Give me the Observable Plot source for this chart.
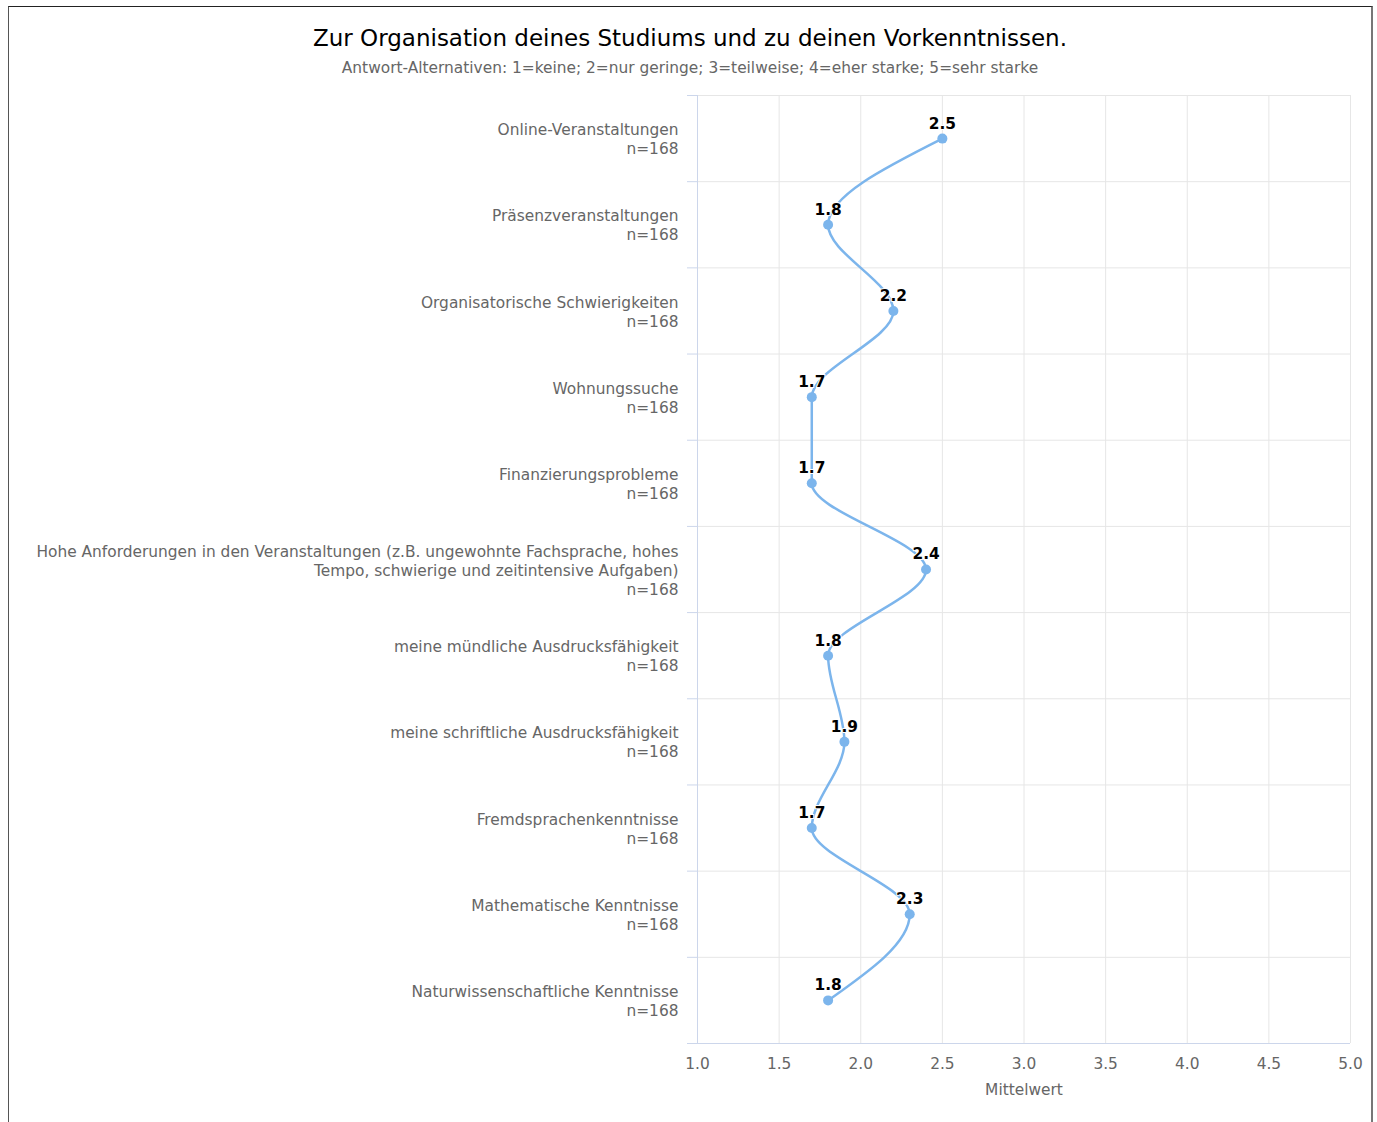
<!DOCTYPE html>
<html>
<head>
<meta charset="utf-8">
<script src="https://cdn.jsdelivr.net/npm/d3@7"></script>
<script src="https://cdn.jsdelivr.net/npm/@observablehq/plot@0.6"></script>
<style>
  html, body { margin: 0; padding: 0; background: #fff; overflow: hidden; }
  #frame {
    position: absolute; left: 8px; top: 6px; width: 1362px; height: 1200px;
    border-left: 1px solid #555; border-top: 1px solid #222; border-right: 2px solid #777;
    background: #fff; font-family: "DejaVu Sans", sans-serif;
  }
  #title {
    position: absolute; left: 0; width: 100%; top: 17px; text-align: center;
    font-size: 23px; line-height: 28px; color: #000;
  }
  #subtitle {
    position: absolute; left: 0; width: 100%; top: 51px; text-align: center;
    font-size: 15.4px; line-height: 20px; color: #666;
  }
  #chart { position: absolute; left: 0; top: 73px; }
</style>
</head>
<body>
<div id="frame">
  <div id="title">Zur Organisation deines Studiums und zu deinen Vorkenntnissen.</div>
  <div id="subtitle">Antwort-Alternativen: 1=keine; 2=nur geringe; 3=teilweise; 4=eher starke; 5=sehr starke</div>
  <div id="chart"></div>
</div>
<script>
const categories = [
  "Online-Veranstaltungen",
  "Präsenzveranstaltungen",
  "Organisatorische Schwierigkeiten",
  "Wohnungssuche",
  "Finanzierungsprobleme",
  "Hohe Anforderungen in den Veranstaltungen (z.B. ungewohnte Fachsprache, hohes\nTempo, schwierige und zeitintensive Aufgaben)",
  "meine mündliche Ausdrucksfähigkeit",
  "meine schriftliche Ausdrucksfähigkeit",
  "Fremdsprachenkenntnisse",
  "Mathematische Kenntnisse",
  "Naturwissenschaftliche Kenntnisse"
];
const values = [2.5, 1.8, 2.2, 1.7, 1.7, 2.4, 1.8, 1.9, 1.7, 2.3, 1.8];
const counts = [168, 168, 168, 168, 168, 168, 168, 168, 168, 168, 168];
const xTicks = [1.0, 1.5, 2.0, 2.5, 3.0, 3.5, 4.0, 4.5, 5.0];
const xTitle = "Mittelwert";

const data = categories.map((c, i) => ({i, cat: c, value: values[i], n: counts[i]}));
const indices = categories.map((c, i) => i);
const boundaries = d3.range(categories.length + 1).map(k => k - 0.5);

const chart = Plot.plot({
  width: 1362,
  height: 1020,
  marginLeft: 688,
  marginRight: 21,
  marginTop: 15,
  marginBottom: 57,
  style: {fontFamily: "DejaVu Sans, sans-serif", fontSize: "15.4px", color: "#666", background: "transparent", overflow: "visible"},
  x: {domain: [1, 5], label: null},
  y: {domain: [-0.5, categories.length - 0.5], reverse: true, label: null},
  marks: [
    Plot.gridX(xTicks, {stroke: "#e6e6e6", strokeOpacity: 1}),
    Plot.gridY(boundaries, {stroke: "#e6e6e6", strokeOpacity: 1}),
    Plot.axisY(boundaries, {tickSize: 10, tickFormat: () => "", stroke: "#ccd6eb", label: null}),
    Plot.ruleX([1], {stroke: "#ccd6eb"}),
    Plot.ruleY([categories.length - 0.5], {stroke: "#ccd6eb"}),
    Plot.axisY(indices, {
      tickSize: 0, tickPadding: 19, label: null,
      tickFormat: i => `${categories[i]}\nn=${counts[i]}`,
      lineHeight: 19 / 15.4, fill: "#666", fontSize: 15.4
    }),
    Plot.axisX(xTicks, {tickSize: 0, tickPadding: 15, tickFormat: d3.format(".1f"), label: null, fill: "#666", fontSize: 15.4}),
    Plot.text([xTitle], {frameAnchor: "bottom", dy: 51, text: d => d, fill: "#666", fontSize: 15.4}),
    Plot.line(data, {x: "value", y: "i", curve: "monotone-y", stroke: "#7cb5ec", strokeWidth: 2.5}),
    Plot.dot(data, {x: "value", y: "i", r: 5, fill: "#7cb5ec"}),
    Plot.text(data, {
      x: "value", y: "i", text: d => d.value.toFixed(1), dy: -15,
      fontWeight: "bold", fill: "#000", stroke: "#fff", strokeWidth: 2, fontSize: 15.4
    })
  ]
});
document.getElementById("chart").appendChild(chart);
</script>
</body>
</html>
